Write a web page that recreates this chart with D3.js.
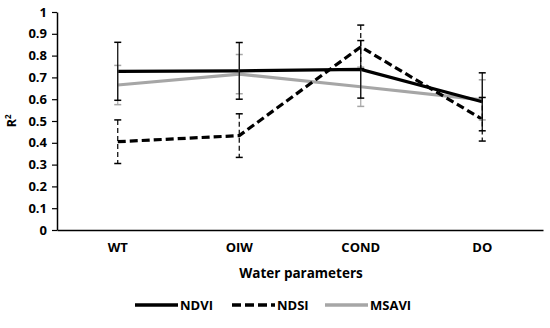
<!DOCTYPE html>
<html>
<head>
<meta charset="utf-8">
<script src="https://cdn.jsdelivr.net/npm/d3@7"></script>
<style>
  body { margin: 0; background: #fff; }
  text { font-family: "Open Sans", sans-serif; font-weight: bold; fill: #000; }
</style>
</head>
<body>
<div id="chart"></div>
<script>
// Data
const categories = ["WT", "OIW", "COND", "DO"];
const yTicks = [0, 0.1, 0.2, 0.3, 0.4, 0.5, 0.6, 0.7, 0.8, 0.9, 1];
const ndvi = [0.728, 0.73, 0.737, 0.588];
const ndviErr = [0.133, 0.13, 0.132, 0.133];
const ndsi = [0.405, 0.433, 0.84, 0.508];
const ndsiErr = [0.1, 0.1, 0.1, 0.1];
const msavi = [0.665, 0.715, 0.657, 0.597];
const msaviErr = [0.09, 0.09, 0.09, 0.092];

const series = [
  { name: "MSAVI", values: msavi, err: msaviErr, color: "#a6a6a6", dash: null },
  { name: "NDVI", values: ndvi, err: ndviErr, color: "#000000", dash: null },
  { name: "NDSI", values: ndsi, err: ndsiErr, color: "#000000", dash: "8,4" },
];
const legendOrder = ["NDVI", "NDSI", "MSAVI"];

// Set up
const svgWidth = 550;
const svgHeight = 328;
const margin = { top: 12, right: 7, bottom: 98, left: 57 };
const width = svgWidth - margin.left - margin.right;
const height = svgHeight - margin.top - margin.bottom;

const svg = d3
  .select("#chart")
  .append("svg")
  .attr("width", svgWidth)
  .attr("height", svgHeight);
const g = svg
  .append("g")
  .attr("transform", `translate(${margin.left},${margin.top})`);

// Scales
const xScale = d3.scaleBand().domain(categories).range([0, width]);
const xPos = (i) => xScale(categories[i]) + xScale.bandwidth() / 2;
const yScale = d3.scaleLinear().domain([0, 1]).range([height, 0]);

// Y axis
const gYAxis = g
  .append("g")
  .call(d3.axisLeft(yScale).tickValues(yTicks).tickSize(5).tickSizeOuter(0).tickFormat(d3.format("~g")));
gYAxis.select(".domain").attr("stroke", "#000").attr("stroke-width", 1.5);
gYAxis.selectAll(".tick line").attr("stroke", "#000").attr("stroke-width", 1.2);
gYAxis.selectAll(".tick text").attr("x", -10).style("font-size", "13px").style("font-family", "'Open Sans', sans-serif").style("font-weight", "bold");

// X axis
const gXAxis = g
  .append("g")
  .attr("transform", `translate(0,${height})`)
  .call(d3.axisBottom(xScale).tickSize(0));
gXAxis.select(".domain").attr("stroke", "#000").attr("stroke-width", 1.5);
gXAxis.selectAll(".tick text").attr("y", 13).style("font-size", "13px").style("font-family", "'Open Sans', sans-serif").style("font-weight", "bold");

// Axis titles
svg
  .append("text")
  .attr("x", margin.left + width / 2 + 1)
  .attr("y", 278)
  .attr("text-anchor", "middle")
  .style("font-size", "13.5px")
  .text("Water parameters");
svg
  .append("text")
  .attr("transform", "translate(16,121) rotate(-90)")
  .attr("text-anchor", "middle")
  .style("font-size", "13px")
  .html("R<tspan dy='-5' font-size='8px'>2</tspan>");

// Lines
const line = d3
  .line()
  .x((d, i) => xPos(i))
  .y((d) => yScale(d));

series.forEach((s) => {
  g.append("path")
    .datum(s.values)
    .attr("fill", "none")
    .attr("stroke", s.color)
    .attr("stroke-width", 3.2)
    .attr("stroke-dasharray", s.dash)
    .attr("d", line);
});

// Error bars
series.forEach((s) => {
  const eg = g.append("g").attr("stroke", s.color).attr("stroke-width", 1.2);
  s.values.forEach((v, i) => {
    const x = xPos(i);
    const y1 = yScale(v + s.err[i]);
    const y2 = yScale(v - s.err[i]);
    eg.append("line")
      .attr("x1", x).attr("x2", x)
      .attr("y1", y1).attr("y2", y2)
      .attr("stroke-dasharray", s.dash ? "5,3" : null);
    [y1, y2].forEach((y) => {
      eg.append("line")
        .attr("x1", x - 3.5).attr("x2", x + 3.5)
        .attr("y1", y).attr("y2", y)
        .attr("stroke-width", 1.5);
    });
  });
});

// Legend
const legendX = [135, 232, 325];
const legend = svg
  .selectAll(".legend-item")
  .data(legendOrder.map((n) => series.find((s) => s.name === n)))
  .join("g")
  .attr("class", "legend-item")
  .attr("transform", (d, i) => `translate(${legendX[i]},305)`);
legend
  .append("line")
  .attr("x1", 0)
  .attr("x2", 43)
  .attr("stroke", (d) => d.color)
  .attr("stroke-width", 3.5)
  .attr("stroke-dasharray", (d) => (d.dash ? "9,4" : null));
legend
  .append("text")
  .attr("x", 45)
  .attr("dy", "0.35em")
  .style("font-size", "13px")
  .text((d) => d.name);
</script>
</body>
</html>
